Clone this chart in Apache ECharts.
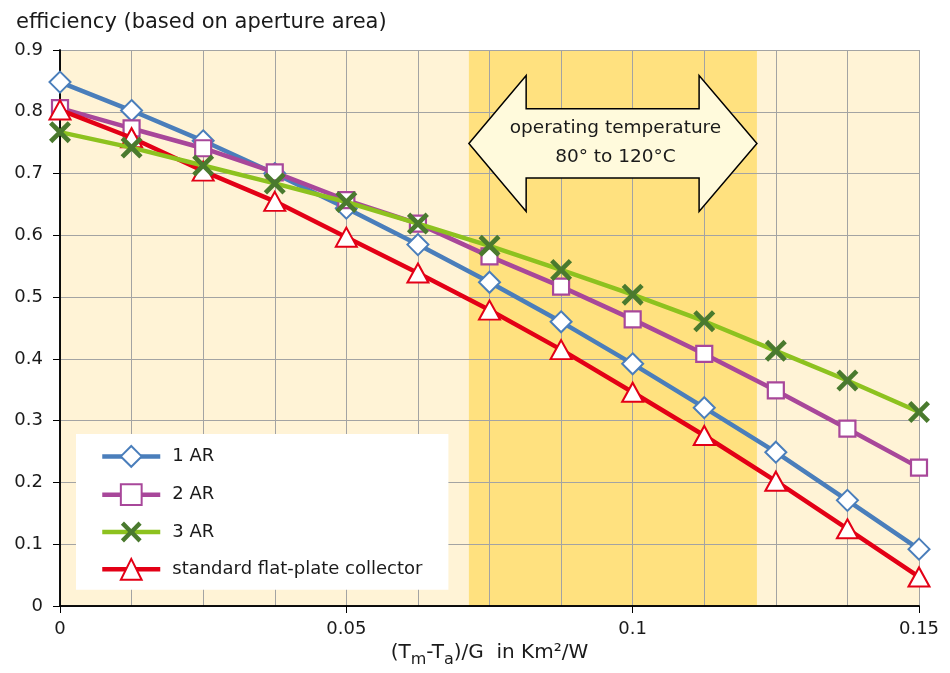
<!DOCTYPE html>
<html>
<head>
<meta charset="utf-8">
<script src="https://cdn.jsdelivr.net/npm/echarts@6/dist/echarts.min.js"></script>
<style>html,body{margin:0;padding:0;background:#fff;}#c{width:950px;height:673px;}</style>
</head>
<body>
<div id="c"></div>
<script>
const xValues = [0, 0.0125, 0.025, 0.0375, 0.05, 0.0625, 0.075, 0.0875, 0.1, 0.1125, 0.125, 0.1375, 0.15];
const ar1 = [0.848, 0.802, 0.753, 0.700, 0.644, 0.585, 0.524, 0.460, 0.392, 0.321, 0.249, 0.171, 0.092];
const ar2 = [0.806, 0.773, 0.741, 0.702, 0.657, 0.619, 0.566, 0.517, 0.464, 0.408, 0.349, 0.287, 0.224];
const ar3 = [0.767, 0.742, 0.713, 0.684, 0.654, 0.619, 0.583, 0.544, 0.504, 0.461, 0.413, 0.365, 0.314];
const flat = [0.803, 0.758, 0.704, 0.655, 0.597, 0.539, 0.479, 0.415, 0.346, 0.276, 0.202, 0.125, 0.047];
const seriesNames = ['1 AR', '2 AR', '3 AR', 'standard flat-plate collector'];
const xTicks = [0, 0.05, 0.1, 0.15];
const yTicks = [0, 0.1, 0.2, 0.3, 0.4, 0.5, 0.6, 0.7, 0.8, 0.9];
const bandRange = [0.0714, 0.1217];
const arrowX = [0.0714, 0.0814, 0.0814, 0.1116, 0.1116, 0.1217, 0.1116, 0.1116, 0.0814, 0.0814];
const arrowY = [0.7485, 0.8586, 0.8047, 0.8047, 0.8586, 0.7485, 0.6385, 0.6930, 0.6930, 0.6385];
const arrowText = ['operating temperature', '80° to 120°C'];
const arrowTextPos = [0.097, 0.774, 0.727];

const FONT = 'DejaVu Sans';
const TXT = '#1a1a1a';
const pair = a => a.map((v, i) => [xValues[i], v]);
const crossPath = 'path://M3,0 L10,7 L17,0 L20,3 L13,10 L20,17 L17,20 L10,13 L3,20 L0,17 L7,10 L0,3 Z';

const chart = echarts.init(document.getElementById('c'), null, {renderer: 'canvas'});
const option = {
  animation: false,
  textStyle: {fontFamily: FONT},
  title: {
    text: 'efficiency (based on aperture area)',
    left: 11, top: 7,
    textStyle: {fontFamily: FONT, fontSize: 21, fontWeight: 'normal', color: TXT}
  },
  grid: {left: 60, right: 31, top: 50, bottom: 67, show: true, backgroundColor: '#FFF3D6', borderWidth: 0},
  legend: {
    data: [seriesNames[0], seriesNames[1], seriesNames[2], seriesNames[3]],
    orient: 'vertical',
    left: 76, top: 434,
    backgroundColor: '#ffffff',
    padding: [11, 26, 9, 24],
    itemWidth: 58, itemHeight: 26, itemGap: 15.5,
    lineStyle: {width: 4.5},
    textStyle: {fontFamily: FONT, fontSize: 18, color: TXT, padding: [0, 0, 0, 7]}
  },
  xAxis: [{
    type: 'value', min: 0, max: 0.15, interval: 0.05, z: 1.5,
    axisLine: {show: true, onZero: false, lineStyle: {color: '#000', width: 1.5}},
    axisTick: {show: true, length: 7, lineStyle: {color: '#000'}},
    axisLabel: {margin: 14, fontSize: 18, color: TXT, fontFamily: FONT,
      formatter: v => (xTicks.indexOf(Math.round(v * 1000) / 1000) >= 0 ? String(Math.round(v * 1000) / 1000) : '')},
    splitLine: {show: true, lineStyle: {color: '#A3A3A3', width: 1}},
    minorTick: {show: false, splitNumber: 4},
    minorSplitLine: {show: true, lineStyle: {color: '#A3A3A3', width: 1}},
    name: '{n|(T}{s|m}{n|-T}{s|a}{n|)/G  in Km²/W}',
    nameLocation: 'middle', nameGap: 34,
    nameTextStyle: {rich: {
      n: {fontFamily: FONT, fontSize: 20, color: TXT, verticalAlign: 'bottom', padding: [0, 0, 5, 0]},
      s: {fontFamily: FONT, fontSize: 16, color: TXT, verticalAlign: 'bottom'}
    }}
  }, {
    type: 'value', position: 'top', min: 0, max: 0.15, interval: 0.05, z: 1.5,
    axisLine: {show: true, lineStyle: {color: '#000', width: 1.5}},
    axisTick: {show: false}, axisLabel: {show: false}, splitLine: {show: false}
  }],
  yAxis: [{
    type: 'value', min: 0, max: 0.9, interval: 0.1, z: 1.5,
    axisLine: {show: true, onZero: false, lineStyle: {color: '#000', width: 1.5}},
    axisTick: {show: true, length: 7, lineStyle: {color: '#000'}},
    axisLabel: {margin: 17, fontSize: 18, color: TXT, fontFamily: FONT,
      formatter: v => String(yTicks[Math.round(v * 10)])},
    splitLine: {show: true, lineStyle: {color: '#A3A3A3', width: 1}}
  }, {
    type: 'value', position: 'right', min: 0, max: 0.9, interval: 0.1, z: 1.5,
    axisLine: {show: true, lineStyle: {color: '#000', width: 1.5}},
    axisTick: {show: false}, axisLabel: {show: false}, splitLine: {show: false}
  }],
  series: [
    {
      type: 'custom', name: 'band', z: 1, silent: true,
      renderItem: (params, api) => {
        const p0 = api.coord([bandRange[0], 0.9]);
        const p1 = api.coord([bandRange[1], 0]);
        return {type: 'rect', shape: {x: p0[0], y: p0[1], width: p1[0] - p0[0], height: p1[1] - p0[1]},
          style: {fill: '#FFE17F'}};
      },
      data: [[bandRange[0], 0]]
    },
    {
      name: seriesNames[0], type: 'line', data: pair(ar1), z: 3,
      symbol: 'diamond', symbolSize: 21,
      lineStyle: {color: '#4A7EBB', width: 4.5},
      itemStyle: {color: '#ffffff', borderColor: '#4A7EBB', borderWidth: 2}
    },
    {
      name: seriesNames[1], type: 'line', data: pair(ar2), z: 4,
      symbol: 'rect', symbolSize: 16,
      lineStyle: {color: '#A8479A', width: 4.5},
      itemStyle: {color: '#ffffff', borderColor: '#A8479A', borderWidth: 2.2}
    },
    {
      name: seriesNames[3], type: 'line', data: pair(flat), z: 5,
      symbol: 'triangle', symbolSize: [21, 19],
      lineStyle: {color: '#E30016', width: 4.5},
      itemStyle: {color: '#ffffff', borderColor: '#E30016', borderWidth: 2}
    },
    {
      name: seriesNames[2], type: 'line', data: pair(ar3), z: 6,
      symbol: crossPath, symbolSize: 22,
      lineStyle: {color: '#8DC21F', width: 4.5},
      itemStyle: {color: '#4A7A2E', borderWidth: 0}
    },
    {
      type: 'custom', name: 'arrow', z: 7, silent: true,
      renderItem: (params, api) => {
        const pts = arrowX.map((x, i) => api.coord([x, arrowY[i]]));
        const t1 = api.coord([arrowTextPos[0], arrowTextPos[1]]);
        const t2 = api.coord([arrowTextPos[0], arrowTextPos[2]]);
        return {type: 'group', children: [
          {type: 'polygon', shape: {points: pts}, style: {fill: '#FFFADC', stroke: '#000', lineWidth: 1.5}},
          {type: 'text', x: t1[0], y: t1[1], style: {text: arrowText[0], fill: TXT, font: '18.5px "' + FONT + '"', align: 'center', verticalAlign: 'middle'}},
          {type: 'text', x: t2[0], y: t2[1], style: {text: arrowText[1], fill: TXT, font: '18.5px "' + FONT + '"', align: 'center', verticalAlign: 'middle'}}
        ]};
      },
      data: [[arrowTextPos[0], arrowTextPos[1]]]
    }
  ]
};
chart.setOption(option);
</script>
</body>
</html>
